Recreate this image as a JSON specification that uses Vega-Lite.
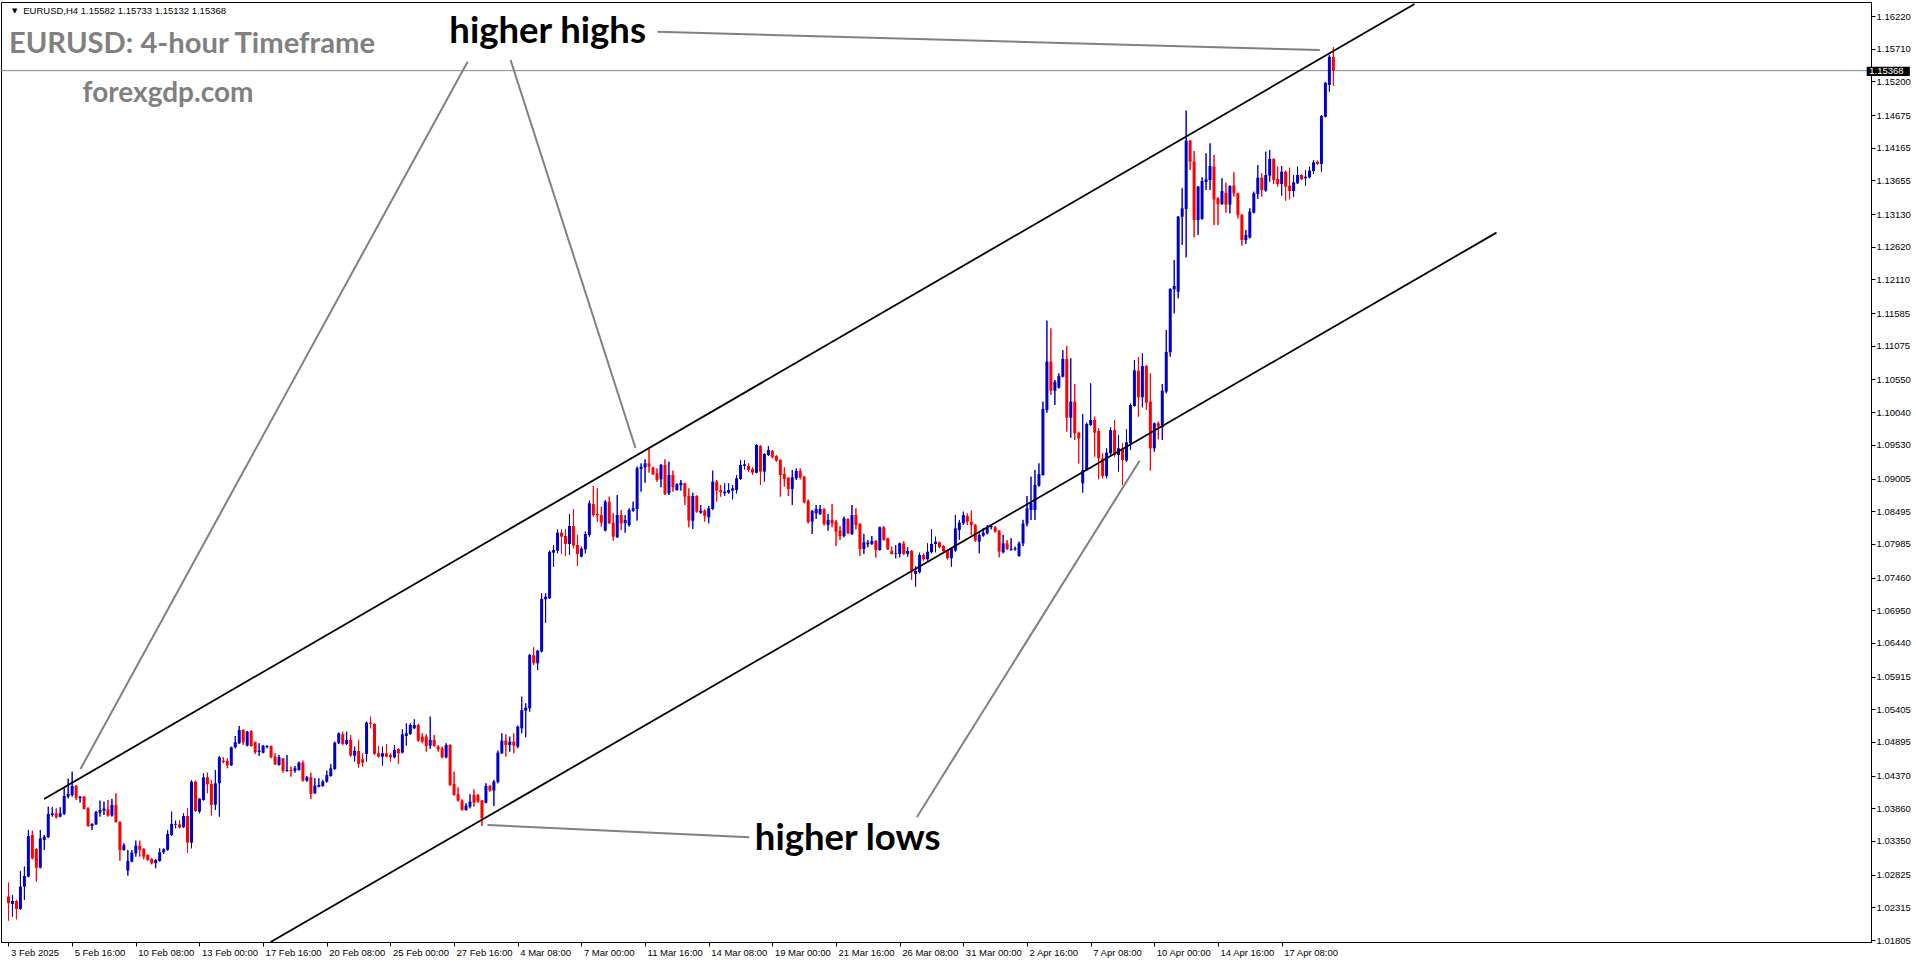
{
"$schema": "https://vega.github.io/schema/vega-lite/v6.json",
"width": 1870, "height": 940,
"autosize": {"type": "none"},
"padding": {"left": 1, "top": 2, "right": 45, "bottom": 22},
"background": "white",
"config": {"view": {"stroke": "#000000", "strokeWidth": 1}, "axis": {"grid": false, "labelOverlap": false, "labelFlush": false, "labelBound": false}},
"datasets": {
"candles": [
{"i":0,"o":1.02482,"h":1.02700,"l":1.02108,"c":1.02378},
{"i":1,"o":1.02368,"h":1.02508,"l":1.02170,"c":1.02414},
{"i":2,"o":1.02414,"h":1.02430,"l":1.02128,"c":1.02290},
{"i":3,"o":1.02290,"h":1.02882,"l":1.02274,"c":1.02638},
{"i":4,"o":1.02638,"h":1.02950,"l":1.02430,"c":1.02804},
{"i":5,"o":1.02794,"h":1.03522,"l":1.02784,"c":1.03428},
{"i":6,"o":1.03444,"h":1.03512,"l":1.03064,"c":1.03080},
{"i":7,"o":1.03226,"h":1.03236,"l":1.02716,"c":1.02934},
{"i":8,"o":1.02934,"h":1.03522,"l":1.02924,"c":1.03392},
{"i":9,"o":1.03366,"h":1.03444,"l":1.03210,"c":1.03418},
{"i":10,"o":1.03408,"h":1.03886,"l":1.03397,"c":1.03772},
{"i":11,"o":1.03756,"h":1.03876,"l":1.03730,"c":1.03782},
{"i":12,"o":1.03782,"h":1.03860,"l":1.03699,"c":1.03720},
{"i":13,"o":1.03730,"h":1.03876,"l":1.03720,"c":1.03782},
{"i":14,"o":1.03772,"h":1.04172,"l":1.03756,"c":1.04052},
{"i":15,"o":1.04042,"h":1.04323,"l":1.04016,"c":1.04084},
{"i":16,"o":1.04068,"h":1.04432,"l":1.04042,"c":1.04208},
{"i":17,"o":1.04208,"h":1.04224,"l":1.03990,"c":1.04026},
{"i":18,"o":1.04016,"h":1.04052,"l":1.03948,"c":1.04042},
{"i":19,"o":1.04042,"h":1.04052,"l":1.03844,"c":1.03850},
{"i":20,"o":1.03860,"h":1.03876,"l":1.03574,"c":1.03584},
{"i":21,"o":1.03584,"h":1.03626,"l":1.03522,"c":1.03616},
{"i":22,"o":1.03610,"h":1.03818,"l":1.03600,"c":1.03803},
{"i":23,"o":1.03792,"h":1.03980,"l":1.03730,"c":1.03834},
{"i":24,"o":1.03824,"h":1.03964,"l":1.03756,"c":1.03855},
{"i":25,"o":1.03844,"h":1.03990,"l":1.03730,"c":1.03746},
{"i":26,"o":1.03746,"h":1.04006,"l":1.03730,"c":1.03912},
{"i":27,"o":1.03907,"h":1.04094,"l":1.03636,"c":1.03647},
{"i":28,"o":1.03647,"h":1.03657,"l":1.03044,"c":1.03210},
{"i":29,"o":1.03210,"h":1.03314,"l":1.03200,"c":1.03283},
{"i":30,"o":1.02888,"h":1.03210,"l":1.02810,"c":1.03038},
{"i":31,"o":1.03028,"h":1.03210,"l":1.03018,"c":1.03168},
{"i":32,"o":1.03158,"h":1.03356,"l":1.03106,"c":1.03278},
{"i":33,"o":1.03278,"h":1.03356,"l":1.03106,"c":1.03210},
{"i":34,"o":1.03226,"h":1.03236,"l":1.03064,"c":1.03106},
{"i":35,"o":1.03132,"h":1.03142,"l":1.03044,"c":1.03054},
{"i":36,"o":1.03070,"h":1.03080,"l":1.02986,"c":1.03002},
{"i":37,"o":1.03002,"h":1.03064,"l":1.02924,"c":1.03054},
{"i":38,"o":1.03038,"h":1.03236,"l":1.03028,"c":1.03174},
{"i":39,"o":1.03174,"h":1.03236,"l":1.03148,"c":1.03220},
{"i":40,"o":1.03210,"h":1.03522,"l":1.03200,"c":1.03460},
{"i":41,"o":1.03444,"h":1.03808,"l":1.03428,"c":1.03616},
{"i":42,"o":1.03605,"h":1.03668,"l":1.03548,"c":1.03616},
{"i":43,"o":1.03610,"h":1.03678,"l":1.03548,"c":1.03558},
{"i":44,"o":1.03564,"h":1.03782,"l":1.03558,"c":1.03740},
{"i":45,"o":1.03740,"h":1.03860,"l":1.03168,"c":1.03324},
{"i":46,"o":1.03324,"h":1.04302,"l":1.03236,"c":1.04276},
{"i":47,"o":1.04276,"h":1.04292,"l":1.03808,"c":1.03818},
{"i":48,"o":1.03808,"h":1.04016,"l":1.03782,"c":1.04011},
{"i":49,"o":1.03990,"h":1.04406,"l":1.03980,"c":1.04344},
{"i":50,"o":1.04344,"h":1.04416,"l":1.04094,"c":1.04234},
{"i":51,"o":1.04240,"h":1.04302,"l":1.03746,"c":1.03912},
{"i":52,"o":1.03917,"h":1.04458,"l":1.03834,"c":1.04250},
{"i":53,"o":1.04250,"h":1.04676,"l":1.03730,"c":1.04656},
{"i":54,"o":1.04604,"h":1.04656,"l":1.04562,"c":1.04583},
{"i":55,"o":1.04598,"h":1.04640,"l":1.04484,"c":1.04531},
{"i":56,"o":1.04531,"h":1.04822,"l":1.04520,"c":1.04812},
{"i":57,"o":1.04812,"h":1.04988,"l":1.04796,"c":1.04890},
{"i":58,"o":1.04874,"h":1.05144,"l":1.04864,"c":1.05082},
{"i":59,"o":1.05082,"h":1.05092,"l":1.04848,"c":1.04890},
{"i":60,"o":1.04838,"h":1.05066,"l":1.04827,"c":1.05056},
{"i":61,"o":1.05066,"h":1.05077,"l":1.04822,"c":1.04832},
{"i":62,"o":1.04890,"h":1.04900,"l":1.04708,"c":1.04734},
{"i":63,"o":1.04739,"h":1.04874,"l":1.04676,"c":1.04760},
{"i":64,"o":1.04728,"h":1.04848,"l":1.04718,"c":1.04838},
{"i":65,"o":1.04812,"h":1.04848,"l":1.04796,"c":1.04832},
{"i":66,"o":1.04832,"h":1.04838,"l":1.04640,"c":1.04656},
{"i":67,"o":1.04666,"h":1.04718,"l":1.04536,"c":1.04546},
{"i":68,"o":1.04536,"h":1.04692,"l":1.04526,"c":1.04656},
{"i":69,"o":1.04640,"h":1.04640,"l":1.04416,"c":1.04448},
{"i":70,"o":1.04442,"h":1.04692,"l":1.04432,"c":1.04458},
{"i":71,"o":1.04458,"h":1.04510,"l":1.04354,"c":1.04442},
{"i":72,"o":1.04448,"h":1.04520,"l":1.04416,"c":1.04484},
{"i":73,"o":1.04458,"h":1.04588,"l":1.04448,"c":1.04572},
{"i":74,"o":1.04572,"h":1.04604,"l":1.04276,"c":1.04292},
{"i":75,"o":1.04292,"h":1.04364,"l":1.04276,"c":1.04344},
{"i":76,"o":1.04344,"h":1.04416,"l":1.04006,"c":1.04084},
{"i":77,"o":1.04094,"h":1.04328,"l":1.04084,"c":1.04214},
{"i":78,"o":1.04198,"h":1.04328,"l":1.04188,"c":1.04224},
{"i":79,"o":1.04208,"h":1.04302,"l":1.04198,"c":1.04276},
{"i":80,"o":1.04276,"h":1.04448,"l":1.04260,"c":1.04380},
{"i":81,"o":1.04364,"h":1.04552,"l":1.04354,"c":1.04484},
{"i":82,"o":1.04474,"h":1.04900,"l":1.04458,"c":1.04884},
{"i":83,"o":1.04874,"h":1.05040,"l":1.04864,"c":1.05030},
{"i":84,"o":1.05014,"h":1.05056,"l":1.04848,"c":1.04864},
{"i":85,"o":1.04864,"h":1.05056,"l":1.04848,"c":1.04926},
{"i":86,"o":1.04926,"h":1.05004,"l":1.04666,"c":1.04682},
{"i":87,"o":1.04682,"h":1.04822,"l":1.04588,"c":1.04760},
{"i":88,"o":1.04754,"h":1.04926,"l":1.04494,"c":1.04552},
{"i":89,"o":1.04624,"h":1.04718,"l":1.04510,"c":1.04572},
{"i":90,"o":1.04708,"h":1.05212,"l":1.04588,"c":1.05196},
{"i":91,"o":1.05196,"h":1.05290,"l":1.05108,"c":1.05176},
{"i":92,"o":1.05176,"h":1.05186,"l":1.04692,"c":1.04708},
{"i":93,"o":1.04718,"h":1.04832,"l":1.04656,"c":1.04666},
{"i":94,"o":1.04666,"h":1.04822,"l":1.04526,"c":1.04718},
{"i":95,"o":1.04718,"h":1.04858,"l":1.04656,"c":1.04666},
{"i":96,"o":1.04692,"h":1.04718,"l":1.04588,"c":1.04656},
{"i":97,"o":1.04656,"h":1.04848,"l":1.04640,"c":1.04770},
{"i":98,"o":1.04786,"h":1.04796,"l":1.04552,"c":1.04718},
{"i":99,"o":1.04728,"h":1.05092,"l":1.04718,"c":1.05014},
{"i":100,"o":1.04988,"h":1.05186,"l":1.04838,"c":1.05030},
{"i":101,"o":1.05020,"h":1.05186,"l":1.05004,"c":1.05160},
{"i":102,"o":1.05108,"h":1.05248,"l":1.05098,"c":1.05160},
{"i":103,"o":1.05160,"h":1.05176,"l":1.04900,"c":1.04916},
{"i":104,"o":1.04978,"h":1.05030,"l":1.04874,"c":1.04900},
{"i":105,"o":1.04978,"h":1.05014,"l":1.04744,"c":1.04832},
{"i":106,"o":1.04838,"h":1.05290,"l":1.04786,"c":1.04926},
{"i":107,"o":1.04926,"h":1.05004,"l":1.04822,"c":1.04832},
{"i":108,"o":1.04822,"h":1.04848,"l":1.04744,"c":1.04780},
{"i":109,"o":1.04796,"h":1.04822,"l":1.04640,"c":1.04656},
{"i":110,"o":1.04656,"h":1.04874,"l":1.04640,"c":1.04848},
{"i":111,"o":1.04848,"h":1.04858,"l":1.04208,"c":1.04224},
{"i":112,"o":1.04240,"h":1.04432,"l":1.04058,"c":1.04068},
{"i":113,"o":1.04078,"h":1.04188,"l":1.03964,"c":1.03980},
{"i":114,"o":1.03980,"h":1.04000,"l":1.03824,"c":1.03834},
{"i":115,"o":1.03834,"h":1.03938,"l":1.03824,"c":1.03902},
{"i":116,"o":1.03886,"h":1.04078,"l":1.03860,"c":1.03964},
{"i":117,"o":1.04068,"h":1.04156,"l":1.03886,"c":1.03948},
{"i":118,"o":1.04068,"h":1.04084,"l":1.03948,"c":1.03964},
{"i":119,"o":1.03980,"h":1.03990,"l":1.03584,"c":1.03704},
{"i":120,"o":1.03948,"h":1.04250,"l":1.03938,"c":1.04208},
{"i":121,"o":1.04208,"h":1.04224,"l":1.04120,"c":1.04136},
{"i":122,"o":1.04136,"h":1.04302,"l":1.03896,"c":1.04276},
{"i":123,"o":1.04271,"h":1.04760,"l":1.04250,"c":1.04728},
{"i":124,"o":1.04718,"h":1.05030,"l":1.04708,"c":1.04916},
{"i":125,"o":1.04916,"h":1.05014,"l":1.04666,"c":1.04848},
{"i":126,"o":1.04848,"h":1.04978,"l":1.04744,"c":1.04900},
{"i":127,"o":1.04900,"h":1.05030,"l":1.04718,"c":1.04838},
{"i":128,"o":1.04822,"h":1.05150,"l":1.04796,"c":1.05134},
{"i":129,"o":1.05108,"h":1.05602,"l":1.05030,"c":1.05394},
{"i":130,"o":1.05384,"h":1.05498,"l":1.04968,"c":1.05430},
{"i":131,"o":1.05420,"h":1.06268,"l":1.05368,"c":1.06252},
{"i":132,"o":1.06247,"h":1.06372,"l":1.06096,"c":1.06122},
{"i":133,"o":1.06122,"h":1.06330,"l":1.06018,"c":1.06320},
{"i":134,"o":1.06304,"h":1.07214,"l":1.06294,"c":1.07126},
{"i":135,"o":1.07120,"h":1.07214,"l":1.06756,"c":1.07162},
{"i":136,"o":1.07136,"h":1.07880,"l":1.07126,"c":1.07864},
{"i":137,"o":1.07848,"h":1.07968,"l":1.07630,"c":1.07890},
{"i":138,"o":1.07880,"h":1.08212,"l":1.07838,"c":1.08160},
{"i":139,"o":1.08160,"h":1.08212,"l":1.07828,"c":1.08098},
{"i":140,"o":1.08108,"h":1.08218,"l":1.07796,"c":1.07984},
{"i":141,"o":1.07984,"h":1.08452,"l":1.07812,"c":1.08264},
{"i":142,"o":1.08264,"h":1.08524,"l":1.07916,"c":1.07958},
{"i":143,"o":1.07968,"h":1.08124,"l":1.07640,"c":1.07828},
{"i":144,"o":1.07786,"h":1.07942,"l":1.07776,"c":1.07911},
{"i":145,"o":1.07900,"h":1.08176,"l":1.07838,"c":1.08140},
{"i":146,"o":1.08124,"h":1.08660,"l":1.08098,"c":1.08618},
{"i":147,"o":1.08608,"h":1.08888,"l":1.08410,"c":1.08436},
{"i":148,"o":1.08452,"h":1.08852,"l":1.08332,"c":1.08426},
{"i":149,"o":1.08436,"h":1.08566,"l":1.08254,"c":1.08316},
{"i":150,"o":1.08192,"h":1.08670,"l":1.08181,"c":1.08644},
{"i":151,"o":1.08644,"h":1.08722,"l":1.08296,"c":1.08306},
{"i":152,"o":1.08316,"h":1.08462,"l":1.08036,"c":1.08098},
{"i":153,"o":1.08088,"h":1.08748,"l":1.08077,"c":1.08436},
{"i":154,"o":1.08436,"h":1.08514,"l":1.08202,"c":1.08306},
{"i":155,"o":1.08306,"h":1.08436,"l":1.08160,"c":1.08358},
{"i":156,"o":1.08280,"h":1.08540,"l":1.08254,"c":1.08514},
{"i":157,"o":1.08504,"h":1.08644,"l":1.08488,"c":1.08540},
{"i":158,"o":1.08530,"h":1.09190,"l":1.08348,"c":1.09164},
{"i":159,"o":1.09154,"h":1.09242,"l":1.08800,"c":1.09190},
{"i":160,"o":1.09180,"h":1.09304,"l":1.08940,"c":1.09242},
{"i":161,"o":1.09242,"h":1.09476,"l":1.09096,"c":1.09190},
{"i":162,"o":1.09174,"h":1.09190,"l":1.09060,"c":1.09070},
{"i":163,"o":1.09086,"h":1.09164,"l":1.08956,"c":1.08982},
{"i":164,"o":1.08992,"h":1.09232,"l":1.08868,"c":1.09216},
{"i":165,"o":1.09216,"h":1.09304,"l":1.08748,"c":1.08764},
{"i":166,"o":1.08774,"h":1.09268,"l":1.08748,"c":1.09060},
{"i":167,"o":1.09060,"h":1.09128,"l":1.08800,"c":1.08868},
{"i":168,"o":1.08826,"h":1.08930,"l":1.08816,"c":1.08920},
{"i":169,"o":1.08904,"h":1.08982,"l":1.08816,"c":1.08940},
{"i":170,"o":1.08930,"h":1.08940,"l":1.08592,"c":1.08722},
{"i":171,"o":1.08732,"h":1.08852,"l":1.08244,"c":1.08348},
{"i":172,"o":1.08348,"h":1.08784,"l":1.08218,"c":1.08732},
{"i":173,"o":1.08732,"h":1.08743,"l":1.08472,"c":1.08488},
{"i":174,"o":1.08472,"h":1.08592,"l":1.08452,"c":1.08504},
{"i":175,"o":1.08504,"h":1.08524,"l":1.08332,"c":1.08420},
{"i":176,"o":1.08400,"h":1.08576,"l":1.08306,"c":1.08540},
{"i":177,"o":1.08530,"h":1.09128,"l":1.08514,"c":1.08956},
{"i":178,"o":1.08956,"h":1.08982,"l":1.08644,"c":1.08816},
{"i":179,"o":1.08826,"h":1.08904,"l":1.08722,"c":1.08790},
{"i":180,"o":1.08774,"h":1.08930,"l":1.08732,"c":1.08800},
{"i":181,"o":1.08784,"h":1.08930,"l":1.08764,"c":1.08826},
{"i":182,"o":1.08816,"h":1.08904,"l":1.08680,"c":1.08852},
{"i":183,"o":1.08826,"h":1.09060,"l":1.08774,"c":1.09008},
{"i":184,"o":1.08998,"h":1.09294,"l":1.08982,"c":1.09216},
{"i":185,"o":1.09200,"h":1.09294,"l":1.09148,"c":1.09226},
{"i":186,"o":1.09200,"h":1.09242,"l":1.09112,"c":1.09138},
{"i":187,"o":1.09154,"h":1.09180,"l":1.09060,"c":1.09096},
{"i":188,"o":1.09096,"h":1.09544,"l":1.09086,"c":1.09528},
{"i":189,"o":1.09512,"h":1.09523,"l":1.08904,"c":1.09112},
{"i":190,"o":1.09112,"h":1.09398,"l":1.08956,"c":1.09388},
{"i":191,"o":1.09372,"h":1.09512,"l":1.09356,"c":1.09450},
{"i":192,"o":1.09434,"h":1.09450,"l":1.09320,"c":1.09336},
{"i":193,"o":1.09356,"h":1.09372,"l":1.09268,"c":1.09284},
{"i":194,"o":1.09294,"h":1.09304,"l":1.08722,"c":1.09060},
{"i":195,"o":1.09076,"h":1.09180,"l":1.08878,"c":1.08998},
{"i":196,"o":1.09018,"h":1.09024,"l":1.08732,"c":1.08842},
{"i":197,"o":1.08842,"h":1.09138,"l":1.08592,"c":1.09024},
{"i":198,"o":1.09008,"h":1.09164,"l":1.08982,"c":1.09122},
{"i":199,"o":1.09122,"h":1.09164,"l":1.08992,"c":1.09018},
{"i":200,"o":1.09034,"h":1.09044,"l":1.08618,"c":1.08634},
{"i":201,"o":1.08654,"h":1.08680,"l":1.08306,"c":1.08322},
{"i":202,"o":1.08332,"h":1.08514,"l":1.08140,"c":1.08498},
{"i":203,"o":1.08462,"h":1.08592,"l":1.08374,"c":1.08530},
{"i":204,"o":1.08452,"h":1.08592,"l":1.08436,"c":1.08530},
{"i":205,"o":1.08530,"h":1.08540,"l":1.08270,"c":1.08296},
{"i":206,"o":1.08280,"h":1.08452,"l":1.08192,"c":1.08358},
{"i":207,"o":1.08358,"h":1.08608,"l":1.08244,"c":1.08306},
{"i":208,"o":1.08332,"h":1.08358,"l":1.07952,"c":1.08176},
{"i":209,"o":1.08192,"h":1.08264,"l":1.08046,"c":1.08108},
{"i":210,"o":1.08108,"h":1.08410,"l":1.08088,"c":1.08384},
{"i":211,"o":1.08374,"h":1.08384,"l":1.08140,"c":1.08150},
{"i":212,"o":1.08140,"h":1.08592,"l":1.08124,"c":1.08436},
{"i":213,"o":1.08436,"h":1.08540,"l":1.08212,"c":1.08280},
{"i":214,"o":1.08296,"h":1.08306,"l":1.07796,"c":1.07906},
{"i":215,"o":1.07906,"h":1.08140,"l":1.07828,"c":1.08010},
{"i":216,"o":1.07978,"h":1.08046,"l":1.07932,"c":1.08004},
{"i":217,"o":1.07984,"h":1.08108,"l":1.07968,"c":1.08030},
{"i":218,"o":1.08030,"h":1.08046,"l":1.07770,"c":1.07890},
{"i":219,"o":1.07890,"h":1.08254,"l":1.07880,"c":1.08244},
{"i":220,"o":1.08244,"h":1.08264,"l":1.08036,"c":1.08046},
{"i":221,"o":1.08072,"h":1.08082,"l":1.07890,"c":1.07900},
{"i":222,"o":1.07874,"h":1.07942,"l":1.07822,"c":1.07828},
{"i":223,"o":1.07828,"h":1.07968,"l":1.07760,"c":1.07838},
{"i":224,"o":1.07828,"h":1.08004,"l":1.07776,"c":1.07994},
{"i":225,"o":1.07994,"h":1.08030,"l":1.07812,"c":1.07828},
{"i":226,"o":1.07828,"h":1.07932,"l":1.07786,"c":1.07874},
{"i":227,"o":1.07874,"h":1.07890,"l":1.07422,"c":1.07552},
{"i":228,"o":1.07516,"h":1.07640,"l":1.07318,"c":1.07562},
{"i":229,"o":1.07542,"h":1.07848,"l":1.07526,"c":1.07812},
{"i":230,"o":1.07812,"h":1.07838,"l":1.07724,"c":1.07744},
{"i":231,"o":1.07744,"h":1.07994,"l":1.07724,"c":1.07864},
{"i":232,"o":1.07854,"h":1.08212,"l":1.07838,"c":1.07984},
{"i":233,"o":1.07984,"h":1.08098,"l":1.07854,"c":1.08020},
{"i":234,"o":1.08010,"h":1.08020,"l":1.07916,"c":1.07932},
{"i":235,"o":1.07952,"h":1.07968,"l":1.07838,"c":1.07874},
{"i":236,"o":1.07890,"h":1.07900,"l":1.07744,"c":1.07760},
{"i":237,"o":1.07760,"h":1.07932,"l":1.07630,"c":1.07916},
{"i":238,"o":1.07880,"h":1.08436,"l":1.07864,"c":1.08228},
{"i":239,"o":1.08202,"h":1.08358,"l":1.08046,"c":1.08316},
{"i":240,"o":1.08306,"h":1.08488,"l":1.08280,"c":1.08436},
{"i":241,"o":1.08420,"h":1.08462,"l":1.08280,"c":1.08332},
{"i":242,"o":1.08332,"h":1.08504,"l":1.08124,"c":1.08280},
{"i":243,"o":1.08280,"h":1.08296,"l":1.08020,"c":1.08036},
{"i":244,"o":1.08020,"h":1.08150,"l":1.07838,"c":1.08124},
{"i":245,"o":1.08114,"h":1.08228,"l":1.08098,"c":1.08160},
{"i":246,"o":1.08150,"h":1.08280,"l":1.08134,"c":1.08244},
{"i":247,"o":1.08244,"h":1.08280,"l":1.08212,"c":1.08264},
{"i":248,"o":1.08244,"h":1.08264,"l":1.08160,"c":1.08176},
{"i":249,"o":1.08192,"h":1.08202,"l":1.07776,"c":1.07864},
{"i":250,"o":1.07854,"h":1.08124,"l":1.07838,"c":1.07994},
{"i":251,"o":1.07994,"h":1.08046,"l":1.07890,"c":1.07906},
{"i":252,"o":1.07890,"h":1.08072,"l":1.07880,"c":1.07906},
{"i":253,"o":1.07900,"h":1.07942,"l":1.07880,"c":1.07916},
{"i":254,"o":1.07796,"h":1.08020,"l":1.07786,"c":1.07994},
{"i":255,"o":1.07994,"h":1.08360,"l":1.07950,"c":1.08300},
{"i":256,"o":1.08300,"h":1.08732,"l":1.08260,"c":1.08540},
{"i":257,"o":1.08514,"h":1.09034,"l":1.08358,"c":1.08618},
{"i":258,"o":1.08514,"h":1.09138,"l":1.08358,"c":1.08904},
{"i":259,"o":1.08894,"h":1.09242,"l":1.08878,"c":1.09076},
{"i":260,"o":1.09060,"h":1.10204,"l":1.09050,"c":1.10090},
{"i":261,"o":1.10074,"h":1.11468,"l":1.10032,"c":1.10828},
{"i":262,"o":1.10828,"h":1.11348,"l":1.10308,"c":1.10374},
{"i":263,"o":1.10374,"h":1.10542,"l":1.10152,"c":1.10516},
{"i":264,"o":1.10422,"h":1.10646,"l":1.10412,"c":1.10604},
{"i":265,"o":1.10594,"h":1.11010,"l":1.10584,"c":1.10870},
{"i":266,"o":1.10870,"h":1.11072,"l":1.09736,"c":1.09954},
{"i":267,"o":1.09954,"h":1.10880,"l":1.09642,"c":1.10204},
{"i":268,"o":1.10204,"h":1.10480,"l":1.09606,"c":1.09710},
{"i":269,"o":1.09720,"h":1.09736,"l":1.09242,"c":1.09632},
{"i":270,"o":1.08930,"h":1.10012,"l":1.08784,"c":1.09138},
{"i":271,"o":1.09138,"h":1.09876,"l":1.09128,"c":1.09856},
{"i":272,"o":1.09840,"h":1.10490,"l":1.09824,"c":1.09918},
{"i":273,"o":1.09918,"h":1.09970,"l":1.09346,"c":1.09720},
{"i":274,"o":1.09746,"h":1.09788,"l":1.08992,"c":1.09320},
{"i":275,"o":1.09320,"h":1.09398,"l":1.09008,"c":1.09044},
{"i":276,"o":1.09044,"h":1.09476,"l":1.09008,"c":1.09408},
{"i":277,"o":1.09398,"h":1.09804,"l":1.09356,"c":1.09762},
{"i":278,"o":1.09762,"h":1.09918,"l":1.09346,"c":1.09372},
{"i":279,"o":1.09372,"h":1.09684,"l":1.09112,"c":1.09476},
{"i":280,"o":1.09476,"h":1.09554,"l":1.08904,"c":1.09294},
{"i":281,"o":1.09284,"h":1.09772,"l":1.09268,"c":1.09570},
{"i":282,"o":1.09554,"h":1.10178,"l":1.09450,"c":1.10152},
{"i":283,"o":1.10136,"h":1.10854,"l":1.10126,"c":1.10694},
{"i":284,"o":1.10688,"h":1.10896,"l":1.09970,"c":1.10272},
{"i":285,"o":1.10272,"h":1.10958,"l":1.10116,"c":1.10760},
{"i":286,"o":1.10760,"h":1.10776,"l":1.10074,"c":1.10188},
{"i":287,"o":1.10204,"h":1.10646,"l":1.09128,"c":1.09476},
{"i":288,"o":1.09476,"h":1.09876,"l":1.09424,"c":1.09866},
{"i":289,"o":1.09866,"h":1.09892,"l":1.09616,"c":1.09814},
{"i":290,"o":1.09804,"h":1.10480,"l":1.09606,"c":1.10374},
{"i":291,"o":1.10360,"h":1.11322,"l":1.10334,"c":1.10979},
{"i":292,"o":1.10974,"h":1.11972,"l":1.10906,"c":1.11962},
{"i":293,"o":1.11956,"h":1.12414,"l":1.11582,"c":1.12008},
{"i":294,"o":1.11920,"h":1.13100,"l":1.11816,"c":1.13090},
{"i":295,"o":1.13090,"h":1.13532,"l":1.12650,"c":1.13220},
{"i":296,"o":1.13210,"h":1.14744,"l":1.12456,"c":1.14276},
{"i":297,"o":1.14276,"h":1.14286,"l":1.13818,"c":1.13948},
{"i":298,"o":1.13948,"h":1.14114,"l":1.12768,"c":1.13038},
{"i":299,"o":1.13038,"h":1.13568,"l":1.12804,"c":1.13558},
{"i":300,"o":1.13054,"h":1.13704,"l":1.13044,"c":1.13646},
{"i":301,"o":1.13631,"h":1.14078,"l":1.13506,"c":1.13672},
{"i":302,"o":1.13662,"h":1.14234,"l":1.13506,"c":1.13880},
{"i":303,"o":1.13870,"h":1.14052,"l":1.12960,"c":1.13360},
{"i":304,"o":1.13376,"h":1.13392,"l":1.12960,"c":1.13288},
{"i":305,"o":1.13288,"h":1.13688,"l":1.13272,"c":1.13490},
{"i":306,"o":1.13464,"h":1.13620,"l":1.13152,"c":1.13278},
{"i":307,"o":1.13278,"h":1.13578,"l":1.13142,"c":1.13568},
{"i":308,"o":1.13574,"h":1.13782,"l":1.13402,"c":1.13454},
{"i":309,"o":1.13454,"h":1.13464,"l":1.13064,"c":1.13116},
{"i":310,"o":1.13116,"h":1.13132,"l":1.12638,"c":1.12726},
{"i":311,"o":1.12726,"h":1.12882,"l":1.12664,"c":1.12804},
{"i":312,"o":1.12762,"h":1.13220,"l":1.12752,"c":1.13168},
{"i":313,"o":1.13152,"h":1.13480,"l":1.13142,"c":1.13454},
{"i":314,"o":1.13444,"h":1.13896,"l":1.13366,"c":1.13698},
{"i":315,"o":1.13698,"h":1.13766,"l":1.13402,"c":1.13506},
{"i":316,"o":1.13496,"h":1.14104,"l":1.13480,"c":1.13740},
{"i":317,"o":1.13730,"h":1.14130,"l":1.13636,"c":1.13990},
{"i":318,"o":1.13990,"h":1.14000,"l":1.13600,"c":1.13662},
{"i":319,"o":1.13678,"h":1.13870,"l":1.13558,"c":1.13600},
{"i":320,"o":1.13600,"h":1.13880,"l":1.13418,"c":1.13792},
{"i":321,"o":1.13792,"h":1.13808,"l":1.13340,"c":1.13558},
{"i":322,"o":1.13574,"h":1.13854,"l":1.13360,"c":1.13490},
{"i":323,"o":1.13490,"h":1.13740,"l":1.13402,"c":1.13626},
{"i":324,"o":1.13610,"h":1.13870,"l":1.13600,"c":1.13740},
{"i":325,"o":1.13740,"h":1.13750,"l":1.13662,"c":1.13672},
{"i":326,"o":1.13688,"h":1.13818,"l":1.13574,"c":1.13714},
{"i":327,"o":1.13704,"h":1.13870,"l":1.13688,"c":1.13808},
{"i":328,"o":1.13802,"h":1.13974,"l":1.13756,"c":1.13938},
{"i":329,"o":1.13948,"h":1.13964,"l":1.13896,"c":1.13912},
{"i":330,"o":1.13912,"h":1.14676,"l":1.13792,"c":1.14660},
{"i":331,"o":1.14650,"h":1.15191,"l":1.14640,"c":1.15180},
{"i":332,"o":1.15144,"h":1.15612,"l":1.15040,"c":1.15586},
{"i":333,"o":1.15582,"h":1.15733,"l":1.15132,"c":1.15368}
]
},
"layer": [
{
"data": {"name": "candles"},
"mark": {"type": "rule", "strokeWidth": 1},
"encoding": {
"x": {"field": "i", "type": "quantitative", "title": null,
"scale": {"domain": [-0.625, 466.875], "nice": false, "zero": false},
"axis": {"title": null, "grid": false, "tickCount": 100, "values": [0,16,32,48,64,80,96,112,128,144,160,176,192,208,224,240,256,272,288,304,320],
"labelExpr": "['3 Feb 2025','5 Feb 16:00','10 Feb 08:00','13 Feb 00:00','17 Feb 16:00','20 Feb 08:00','25 Feb 00:00','27 Feb 16:00','4 Mar 08:00','7 Mar 00:00','11 Mar 16:00','14 Mar 08:00','19 Mar 00:00','21 Mar 16:00','26 Mar 08:00','31 Mar 00:00','2 Apr 16:00','7 Apr 08:00','10 Apr 00:00','14 Apr 16:00','17 Apr 08:00'][round(datum.value/16)]",
"labelAlign": "left", "labelBaseline": "top", "labelOffset": 2, "labelPadding": 1, "tickSize": 4,
"labelFlush": false, "labelOverlap": false,
"domainColor": "#000000", "tickColor": "#000000", "labelColor": "#000000",
"labelFont": "Liberation Sans", "labelFontSize": 9.5}},
"y": {"field": "l", "type": "quantitative", "title": null,
"scale": {"domain": [1.01774, 1.16439], "nice": false, "zero": false},
"axis": {"title": null, "grid": false, "orient": "right", "tickCount": 100,
"values": [1.01805,1.02315,1.02825,1.03350,1.03860,1.04370,1.04895,1.05405,1.05915,1.06440,1.06950,1.07460,1.07985,1.08495,1.09005,1.09530,1.10040,1.10550,1.11075,1.11585,1.12110,1.12620,1.13130,1.13655,1.14165,1.14675,1.15200,1.15710,1.16220],
"format": ".5f", "labelAlign": "left", "labelBaseline": "middle", "labelPadding": 1, "tickSize": 4,
"labelFlush": false, "labelOverlap": false,
"domainColor": "#000000", "tickColor": "#000000", "labelColor": "#000000",
"labelFont": "Liberation Sans", "labelFontSize": 9.5}},
"y2": {"field": "h"},
"color": {"condition": {"test": "datum.c >= datum.o", "value": "#0000cc"}, "value": "#ff0000"}
}
},
{
"data": {"values": [{"p": 1.15368}]},
"mark": {"type": "rule", "color": "#778899", "strokeWidth": 1},
"encoding": {"y": {"field": "p", "type": "quantitative", "title": null}}
},
{
"data": {"name": "candles"},
"mark": {"type": "rule", "strokeWidth": 1},
"encoding": {
"x": {"field": "i", "type": "quantitative", "title": null},
"y": {"field": "l", "type": "quantitative", "title": null},
"y2": {"field": "h"},
"color": {"condition": {"test": "datum.c >= datum.o", "value": "#0000cc"}, "value": "#ff0000"}
}
},
{
"data": {"name": "candles"},
"mark": {"type": "bar", "size": 3},
"encoding": {
"x": {"field": "i", "type": "quantitative", "title": null},
"y": {"field": "o", "type": "quantitative", "title": null},
"y2": {"field": "c"},
"color": {"condition": {"test": "datum.c >= datum.o", "value": "#0000cc"}, "value": "#ff0000"}
}
},
{
"data": {"values": [
{"a": 8.95, "b": 1.04005, "a2": 353.4, "b2": 1.16408},
{"a": 65.9, "b": 1.01774, "a2": 374.0, "b2": 1.12841}
]},
"mark": {"type": "rule", "color": "#000000", "strokeWidth": 1.8},
"encoding": {
"x": {"field": "a", "type": "quantitative", "title": null},
"y": {"field": "b", "type": "quantitative", "title": null},
"x2": {"field": "a2"},
"y2": {"field": "b2"}
}
},
{
"data": {"values": [
{"a": 115.4, "b": 1.15507, "a2": 18.1, "b2": 1.04473},
{"a": 126.2, "b": 1.15534, "a2": 157.6, "b2": 1.09481},
{"a": 163.1, "b": 1.15975, "a2": 329.6, "b2": 1.15690},
{"a": 186.2, "b": 1.03408, "a2": 120.4, "b2": 1.03600},
{"a": 228.3, "b": 1.03720, "a2": 284.3, "b2": 1.09283}
]},
"mark": {"type": "rule", "color": "#808080", "strokeWidth": 2},
"encoding": {
"x": {"field": "a", "type": "quantitative", "title": null},
"y": {"field": "b", "type": "quantitative", "title": null},
"x2": {"field": "a2"},
"y2": {"field": "b2"}
}
},
{
"data": {"values": [{"i": 0.1, "p": 1.15639, "t": "EURUSD: 4-hour Timeframe"}]},
"mark": {"type": "text", "align": "left", "baseline": "alphabetic", "font": "Lato", "fontWeight": "bold", "fontSize": 29.2, "color": "#808080"},
"encoding": {
"x": {"field": "i", "type": "quantitative", "title": null},
"y": {"field": "p", "type": "quantitative", "title": null},
"text": {"field": "t"}
}
},
{
"data": {"values": [{"i": 18.6, "p": 1.14883, "t": "forexgdp.com"}]},
"mark": {"type": "text", "align": "left", "baseline": "alphabetic", "font": "Lato", "fontWeight": "bold", "fontSize": 28, "color": "#808080"},
"encoding": {
"x": {"field": "i", "type": "quantitative", "title": null},
"y": {"field": "p", "type": "quantitative", "title": null},
"text": {"field": "t"}
}
},
{
"data": {"values": [
{"i": 110.8, "p": 1.15794, "t": "higher highs"},
{"i": 187.6, "p": 1.03209, "t": "higher lows"}
]},
"mark": {"type": "text", "align": "left", "baseline": "alphabetic", "font": "Lato", "fontWeight": "bold", "fontSize": 36.5, "color": "#000000"},
"encoding": {
"x": {"field": "i", "type": "quantitative", "title": null},
"y": {"field": "p", "type": "quantitative", "title": null},
"text": {"field": "t"}
}
},
{
"data": {"values": [{"i": 3.7, "p": 1.16244, "t": "EURUSD,H4  1.15582 1.15733 1.15132 1.15368"}]},
"mark": {"type": "text", "align": "left", "baseline": "alphabetic", "font": "Liberation Sans", "fontSize": 9.5, "color": "#000000"},
"encoding": {
"x": {"field": "i", "type": "quantitative", "title": null},
"y": {"field": "p", "type": "quantitative", "title": null},
"text": {"field": "t"}
}
},
{
"data": {"values": [{"i": 1.55, "p": 1.16303, "t": "▼"}]},
"mark": {"type": "text", "align": "center", "baseline": "middle", "font": "DejaVu Sans", "fontSize": 7, "color": "#000000"},
"encoding": {
"x": {"field": "i", "type": "quantitative", "title": null},
"y": {"field": "p", "type": "quantitative", "title": null},
"text": {"field": "t"}
}
},
{
"data": {"values": [{"a": 467.05, "b": 1.15430, "a2": 477.9, "b2": 1.15284}]},
"mark": {"type": "rect", "color": "#000000"},
"encoding": {
"x": {"field": "a", "type": "quantitative", "title": null},
"y": {"field": "b", "type": "quantitative", "title": null},
"x2": {"field": "a2"},
"y2": {"field": "b2"}
}
},
{
"data": {"values": [{"i": 467.7, "p": 1.15357, "t": "1.15368"}]},
"mark": {"type": "text", "align": "left", "baseline": "middle", "font": "Liberation Sans", "fontSize": 9.5, "color": "#ffffff"},
"encoding": {
"x": {"field": "i", "type": "quantitative", "title": null},
"y": {"field": "p", "type": "quantitative", "title": null},
"text": {"field": "t"}
}
}
]
}
